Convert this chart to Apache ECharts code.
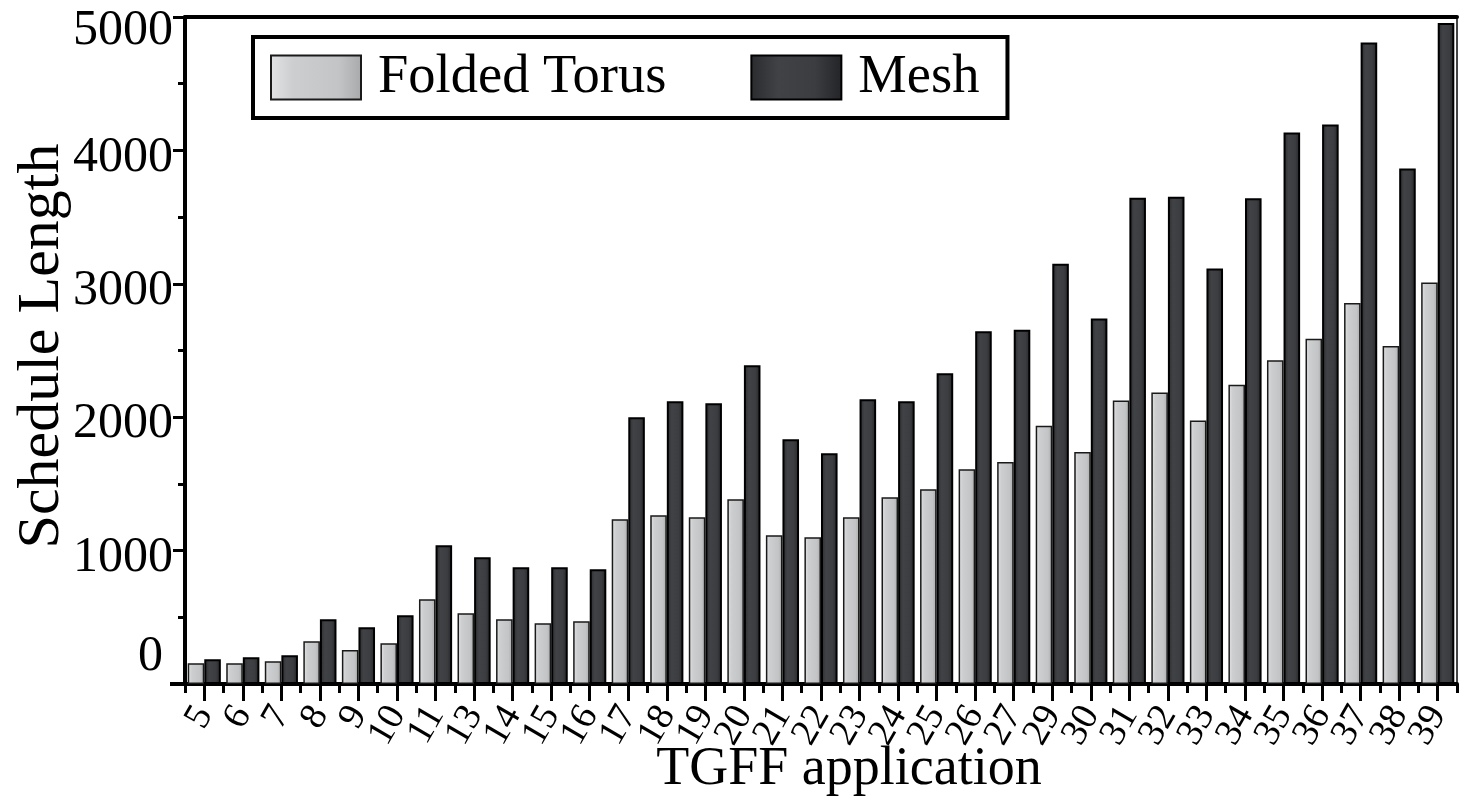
<!DOCTYPE html>
<html>
<head>
<meta charset="utf-8">
<script src="https://cdn.jsdelivr.net/npm/echarts@6/dist/echarts.min.js"></script>
<style>
html,body{margin:0;padding:0;background:#fff;}
#chart{width:1462px;height:800px;}
</style>
</head>
<body>
<div id="chart"></div>
<script>
const categories = ['5','6','7','8','9','10','11','13','14','15','16','17','18','19','20','21','22','23','24','25','26','27','29','30','31','32','33','34','35','36','37','38','39'];
const foldedTorus = [155,155,170,320,255,305,635,530,485,455,470,1235,1265,1250,1385,1115,1100,1250,1400,1460,1610,1665,1935,1740,2125,2186,1975,2244,2426,2588,2856,2534,3010];
const mesh = [185,200,215,485,425,515,1040,950,875,875,860,2000,2120,2105,2390,1835,1730,2135,2120,2330,2645,2655,3150,2740,3645,3652,3115,3641,4135,4195,4808,3865,4955];
const seriesNames = ['Folded Torus','Mesh'];
const yTitle = 'Schedule Length';
const xTitle = 'TGFF application';

const FONT = "'Liberation Serif','Times New Roman',serif";
const chart = echarts.init(document.getElementById('chart'), null, {renderer:'canvas'});

const ftGrad = new echarts.graphic.LinearGradient(0,0,1,0,[
  {offset:0,color:'#e2e3e5'},{offset:0.25,color:'#cdced0'},{offset:0.75,color:'#c3c4c6'},{offset:1,color:'#a8a9ab'}]);
const meshGrad = new echarts.graphic.LinearGradient(0,0,1,0,[
  {offset:0,color:'#2a2b2e'},{offset:0.3,color:'#414246'},{offset:0.7,color:'#3c3d41'},{offset:1,color:'#232427'}]);

const lab = {fontFamily:FONT,fontSize:50,color:'#000'};

chart.setOption({
  backgroundColor:'#fff',
  animation:false,
  grid:{left:185,right:5,top:17,bottom:116,containLabel:false,outerBoundsMode:'none'},
  legend:{
    left:253, top:37,
    orient:'horizontal',
    padding:[13,28,13,17],
    borderColor:'#000', borderWidth:4,
    backgroundColor:'#fff',
    itemWidth:90, itemHeight:44, itemGap:84,
    icon:'rect',
    textStyle:{fontFamily:FONT,fontSize:54.5,color:'#000',lineHeight:44,padding:[0,0,0,12]},
    data:seriesNames
  },
  xAxis:[
    {type:'category',data:categories,position:'bottom',
     axisLine:{show:true,lineStyle:{color:'#000',width:4}},
     axisTick:{show:true,alignWithLabel:true,length:17,lineStyle:{color:'#000',width:3}},
     axisLabel:{interval:0,rotate:60,margin:25,fontFamily:FONT,fontSize:38,color:'#000'},
     splitLine:{show:false}},
    {type:'category',data:categories,position:'bottom',
     axisLine:{show:false},
     axisTick:{show:true,length:9,lineStyle:{color:'#000',width:3}},
     axisLabel:{show:false},splitLine:{show:false}},
    {type:'category',data:categories,position:'top',
     axisLine:{show:true,lineStyle:{color:'#000',width:4}},
     axisTick:{show:false},axisLabel:{show:false},splitLine:{show:false}}
  ],
  yAxis:[
    {type:'value',min:0,max:5000,interval:1000,position:'left',
     axisLine:{show:true,lineStyle:{color:'#000',width:4}},
     axisTick:{show:true,length:12,lineStyle:{color:'#000',width:3}},
     minorTick:{show:true,splitNumber:2,length:7,lineStyle:{color:'#000',width:3}},
     splitLine:{show:false},
     axisLabel:{margin:12,fontFamily:FONT,fontSize:50,color:'#000',
       formatter:function(v){
         if(v===0) return '{z|0}';
         if(v===5000) return '{t|'+v+'}';
         return '{n|'+v+'}';
       },
       rich:{
         z:Object.assign({padding:[0,10,54,0]},lab),
         t:Object.assign({padding:[28,0,0,0]},lab),
         n:Object.assign({padding:[14,0,0,0]},lab)
       }}},
    {type:'value',min:0,max:5000,interval:1000,position:'right',
     axisLine:{show:true,lineStyle:{color:'#444',width:2}},
     axisTick:{show:false},axisLabel:{show:false},splitLine:{show:false}}
  ],
  series:[
    {name:seriesNames[0],type:'bar',data:foldedTorus,xAxisIndex:0,yAxisIndex:0,
     barGap:'0%',barCategoryGap:'14%',
     itemStyle:{color:ftGrad,borderColor:'#1a1a1a',borderWidth:1.5}},
    {name:seriesNames[1],type:'bar',data:mesh,xAxisIndex:0,yAxisIndex:0,
     barGap:'0%',barCategoryGap:'14%',
     itemStyle:{color:meshGrad,borderColor:'#000',borderWidth:2}}
  ],
  graphic:[
    {type:'line',shape:{x1:170,y1:684,x2:186,y2:684},style:{stroke:'#000',lineWidth:4},z:10},
    {type:'text',x:42,y:346,rotation:Math.PI/2,
     style:{text:yTitle,fontFamily:FONT,fontSize:60,fill:'#000',textAlign:'center',textVerticalAlign:'middle'}},
    {type:'text',x:849,y:770,
     style:{text:xTitle,fontFamily:FONT,fontSize:54,fill:'#000',textAlign:'center',textVerticalAlign:'middle'}}
  ]
});
</script>
</body>
</html>
